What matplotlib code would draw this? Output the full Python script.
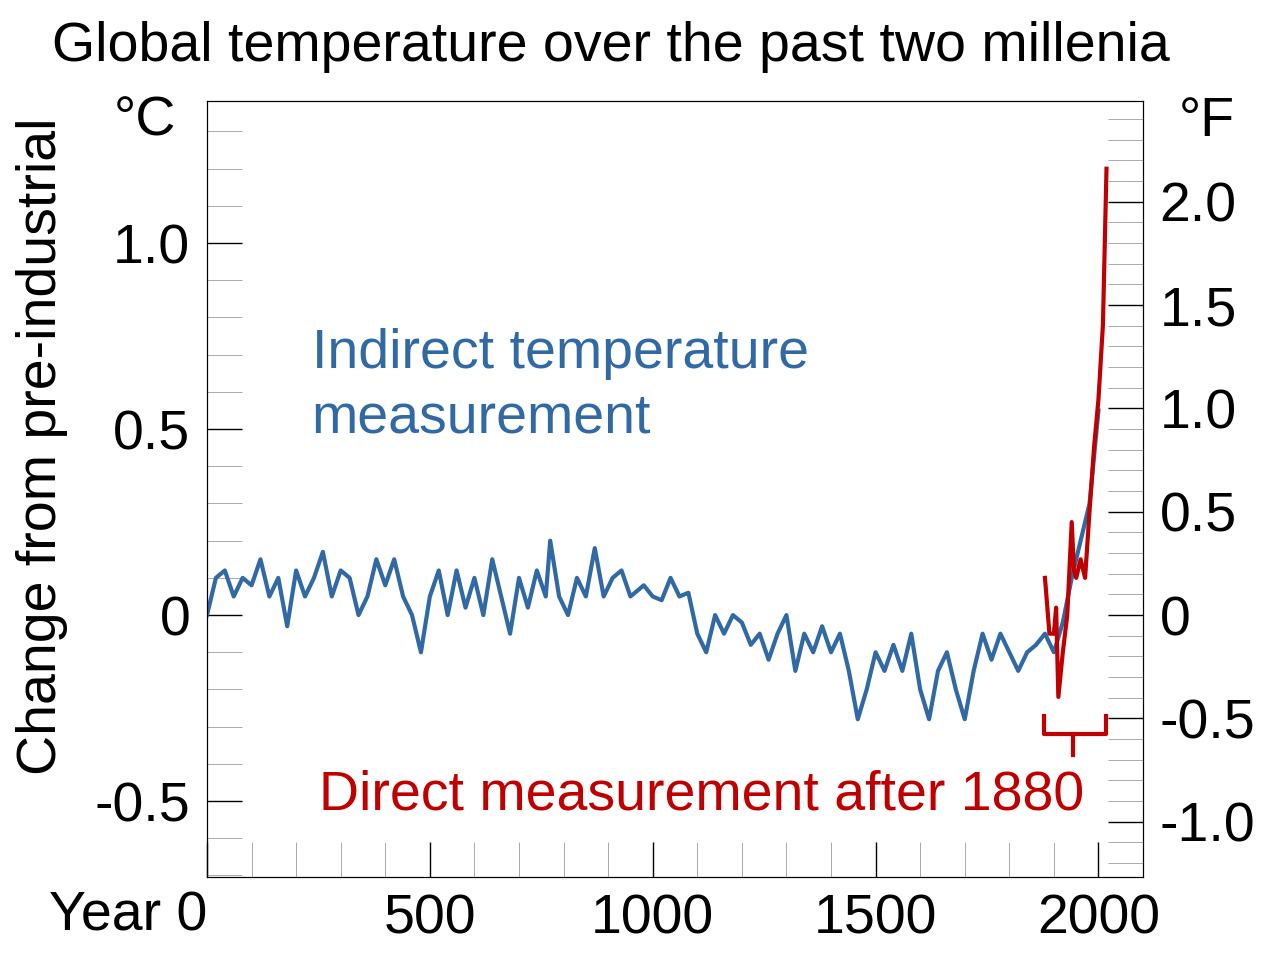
import numpy as np
import matplotlib.pyplot as plt
from matplotlib.ticker import MultipleLocator

plt.rcParams["font.family"] = ["Liberation Sans", "DejaVu Sans"]

# indirect (proxy) reconstruction, degC vs pre-industrial
proxy_years = [0, 20, 40, 60, 80, 100, 120, 140, 160, 180, 200, 220, 240, 260, 280, 300,
               320, 340, 360, 380, 400, 420, 440, 460, 480, 500, 520, 540, 560, 580, 600,
               620, 640, 660, 680, 700, 720, 740, 760, 770, 790, 810, 830, 850, 870, 890,
               910, 930, 950, 980, 1000, 1020, 1040, 1060, 1080, 1100, 1120, 1140, 1160,
               1180, 1200, 1220, 1240, 1260, 1280, 1300, 1320, 1340, 1360, 1380, 1400,
               1420, 1440, 1460, 1480, 1500, 1520, 1540, 1560, 1580, 1600, 1620, 1640,
               1660, 1680, 1700, 1720, 1740, 1760, 1780, 1800, 1820, 1840, 1860, 1880,
               1900, 1920, 1940, 1960, 1980, 2000]
proxy_temp = [0.0, 0.1, 0.12, 0.05, 0.1, 0.08, 0.15, 0.05, 0.1, -0.03, 0.12, 0.05, 0.1,
              0.17, 0.05, 0.12, 0.1, 0.0, 0.05, 0.15, 0.08, 0.15, 0.05, 0.0, -0.1, 0.05,
              0.12, 0.0, 0.12, 0.02, 0.1, 0.0, 0.15, 0.05, -0.05, 0.1, 0.02, 0.12, 0.05,
              0.2, 0.05, 0.0, 0.1, 0.05, 0.18, 0.05, 0.1, 0.12, 0.05, 0.08, 0.05, 0.04,
              0.1, 0.05, 0.06, -0.05, -0.1, 0.0, -0.05, 0.0, -0.02, -0.08, -0.05, -0.12,
              -0.05, 0.0, -0.15, -0.05, -0.1, -0.03, -0.1, -0.05, -0.15, -0.28, -0.2,
              -0.1, -0.15, -0.08, -0.15, -0.05, -0.2, -0.28, -0.15, -0.1, -0.2, -0.28,
              -0.15, -0.05, -0.12, -0.05, -0.1, -0.15, -0.1, -0.08, -0.05, -0.1, -0.02,
              0.1, 0.2, 0.3, 0.55]

# instrumental record
direct_years = [1880, 1890, 1900, 1905, 1910, 1920, 1930, 1940, 1945, 1950, 1960, 1970,
                1980, 1990, 2000, 2010, 2018]
direct_temp = [0.1, -0.05, -0.05, 0.02, -0.22, -0.1, 0.0, 0.25, 0.12, 0.1, 0.15, 0.1,
               0.28, 0.45, 0.58, 0.78, 1.2]

blue = "#3169a5"
red = "#c00000"
fs = 40

fig = plt.figure(figsize=(12.8, 9.6), dpi=100)
ax = fig.add_axes([0.1617, 0.0865, 0.7313, 0.8083])
ax.plot(proxy_years, proxy_temp, color=blue, lw=3)
ax.plot(direct_years, direct_temp, color=red, lw=3)

# bracket under the instrumental record
bx = [1878, 1878, 1943, 2018, 2018]
by = [-0.27, -0.32, -0.32, -0.32, -0.27]
ax.plot(bx, by, color=red, lw=3)
ax.plot([1943, 1943], [-0.32, -0.376], color=red, lw=3)

ax.set_xlim(0, 2100)
ax.set_ylim(-0.704, 1.382)
ax.xaxis.set_major_locator(MultipleLocator(500))
ax.xaxis.set_minor_locator(MultipleLocator(100))
ax.yaxis.set_major_locator(MultipleLocator(0.5))
ax.yaxis.set_minor_locator(MultipleLocator(0.1))
ax.tick_params(which="both", direction="in", length=25, width=1, labelsize=fs, pad=12)
ax.tick_params(which="minor", width=0.5, color="#888888")
ax.set_xticks([0, 500, 1000, 1500, 2000])
ax.set_xticklabels(["", "500", "1000", "1500", "2000"])
ax.set_yticks([-0.5, 0, 0.5, 1.0])
ax.set_yticklabels(["-0.5", "0", "0.5", "1.0"])
ax.text(0, -0.74, "Year 0", ha="right", va="top", fontsize=fs)

axf = ax.twinx()
axf.set_ylim(-0.704 * 1.8, 1.382 * 1.8)
axf.yaxis.set_major_locator(MultipleLocator(0.5))
axf.yaxis.set_minor_locator(MultipleLocator(0.1))
axf.set_yticks([-1.0, -0.5, 0, 0.5, 1.0, 1.5, 2.0])
axf.set_yticklabels(["-1.0", "-0.5", "0", "0.5", "1.0", "1.5", "2.0"])
axf.tick_params(which="both", direction="in", length=25, width=1, labelsize=fs, pad=12)
axf.tick_params(which="minor", width=0.5, color="#888888")

fig.text(0.113, 0.873, "°C", fontsize=fs, ha="center", va="center")
fig.text(0.943, 0.873, "°F", fontsize=fs, ha="center", va="center")
fig.text(0.033, 0.535, "Change from pre-industrial", fontsize=fs, rotation=90,
         ha="center", va="center")
fig.text(0.477, 0.951, "Global temperature over the past two millenia", fontsize=fs,
         ha="center", va="center")

ax.text(235, 0.615, "Indirect temperature\nmeasurement", color=blue, fontsize=fs,
        va="center", linespacing=1.3)
ax.text(1967, -0.484, "Direct measurement after 1880", color=red, fontsize=fs,
        ha="right", va="center")

fig.savefig("out.png")
